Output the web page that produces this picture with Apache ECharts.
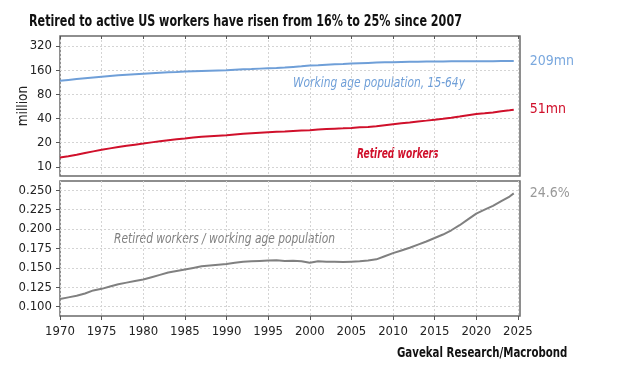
<!DOCTYPE html>
<html><head><meta charset="utf-8">
<script src="https://cdn.jsdelivr.net/npm/echarts@6/dist/echarts.min.js"></script>
<style>html,body{margin:0;padding:0;background:#fff}#c{width:623px;height:378px}</style>
</head><body><div id="c"></div>
<script>
const years = [1970,1971,1972,1973,1974,1975,1976,1977,1978,1979,1980,1981,1982,1983,1984,1985,1986,1987,1988,1989,1990,1991,1992,1993,1994,1995,1996,1997,1998,1999,2000,2001,2002,2003,2004,2005,2006,2007,2008,2009,2010,2011,2012,2013,2014,2015,2016,2017,2018,2019,2020,2021,2022,2023,2024,2024.5];
const workingAge = [118,121,124,127,130,133,136,138.5,141,143,145,147,149,150.5,152,154,155.5,157,158,159,160,162,164,165.5,167.5,169.5,171,173,176,179,183,185,187.5,189.5,191.5,194,196,197.5,199,200.5,201.5,202.5,203.5,204.5,205,205.5,206,206.5,207,207.5,207.5,207,207.5,208.5,209,209];
const retired = [13.1,13.6,14.2,14.9,15.6,16.3,17.0,17.7,18.3,18.9,19.5,20.2,20.9,21.5,22.1,22.6,23.2,23.7,24.1,24.5,24.8,25.3,25.8,26.2,26.6,27.0,27.3,27.5,27.9,28.3,28.6,29.2,29.6,29.9,30.2,30.6,31.1,31.5,32.1,33.1,34.0,34.9,35.8,36.8,37.7,38.7,39.8,41.0,42.4,44.1,45.6,46.6,47.7,49.2,50.6,51.4];
const ratio = [0.110,0.112,0.114,0.117,0.121,0.123,0.126,0.129,0.131,0.133,0.135,0.138,0.141,0.144,0.146,0.148,0.150,0.152,0.153,0.154,0.155,0.1565,0.158,0.1585,0.159,0.1595,0.160,0.159,0.1592,0.1587,0.1565,0.1585,0.158,0.1578,0.1575,0.158,0.1585,0.1595,0.161,0.165,0.169,0.1725,0.176,0.180,0.184,0.1885,0.193,0.1985,0.205,0.2125,0.220,0.225,0.230,0.236,0.242,0.246];
const xTicks = [1970,1975,1980,1985,1990,1995,2000,2005,2010,2015,2020,2025];
const topTicks = [10,20,40,80,160,320];
const bottomTicks = [0.100,0.125,0.150,0.175,0.200,0.225,0.250];
const endLabels = ['209mn','51mn','24.6%'];

const FONT = '"DejaVu Sans Condensed","DejaVu Sans",sans-serif';
const pair = arr => arr.map((v,i)=>[years[i], v]);
const split = {show:true, lineStyle:{color:'#d4d4d4', type:[2,2], width:1}};
const xBase = (gi, showLabels) => ({
  type:'value', gridIndex:gi, min:1970, max:2025.25,
  position: showLabels ? 'bottom' : 'top',
  axisLine:{show:false},
  axisTick:{show:true, inside:!showLabels, customValues:xTicks, length:showLabels?4:3, lineStyle:{color:'#555'}},
  axisLabel:{show:showLabels, customValues:xTicks, color:'#222', fontSize:13, fontFamily:FONT, margin:9, formatter:v=>String(v)},
  splitLine:split
});
const chart = echarts.init(document.getElementById('c'), null, {renderer:'canvas'});
chart.setOption({
  animation:false,
  backgroundColor:'#fff',
  grid:[
    {left:60, top:36, width:460, height:140, show:true, borderColor:'#6a6a6a', borderWidth:1.5, backgroundColor:'transparent'},
    {left:60, top:181, width:460, height:135, show:true, borderColor:'#6a6a6a', borderWidth:1.5, backgroundColor:'transparent'}
  ],
  xAxis:[xBase(0,false), xBase(1,true)],
  yAxis:[
    {type:'log', logBase:10, gridIndex:0, min:7.7, max:427, name:'million', nameLocation:'middle', nameGap:30, nameMoveOverlap:false,
     nameTextStyle:{fontFamily:FONT, fontSize:13.5, color:'#222'},
     axisLine:{show:false},
     axisTick:{show:true, customValues:topTicks, length:4, lineStyle:{color:'#555'}},
     axisLabel:{customValues:topTicks, color:'#222', fontSize:13, fontFamily:FONT, margin:8},
     splitLine:split},
    {type:'value', gridIndex:1, min:0.088, max:0.262,
     axisLine:{show:false},
     axisTick:{show:true, customValues:bottomTicks, length:4, lineStyle:{color:'#555'}},
     axisLabel:{customValues:bottomTicks, color:'#222', fontSize:13, fontFamily:FONT, margin:8, formatter:v=>v.toFixed(3)},
     splitLine:split}
  ],
  series:[
    {type:'line', xAxisIndex:0, yAxisIndex:0, data:pair(workingAge), showSymbol:false, lineStyle:{color:'#6f9fd8', width:2},
     endLabel:{show:true, formatter:endLabels[0], color:'#7aa8de', fontSize:14, fontFamily:FONT, distance:16}},
    {type:'line', xAxisIndex:0, yAxisIndex:0, data:pair(retired), showSymbol:false, lineStyle:{color:'#d0102b', width:2},
     endLabel:{show:true, formatter:endLabels[1], color:'#d0102b', fontSize:14, fontFamily:FONT, distance:16}},
    {type:'line', xAxisIndex:1, yAxisIndex:1, data:pair(ratio), showSymbol:false, lineStyle:{color:'#808080', width:2},
     endLabel:{show:true, formatter:endLabels[2], color:'#999', fontSize:14, fontFamily:FONT, distance:16}}
  ],
  graphic:[
    {type:'text', x:29, y:21.5, scaleX:0.8, style:{text:'Retired to active US workers have risen from 16% to 25% since 2007', fill:'#111', font:'bold 15.5px '+FONT, textVerticalAlign:'middle'}},
    {type:'text', x:293, y:83.5, scaleX:0.88, style:{text:'Working age population, 15-64y', fill:'#6f9fd8', font:'italic 13.5px '+FONT, textVerticalAlign:'middle'}},
    {type:'text', x:357, y:154.5, scaleX:0.75, style:{text:'Retired workers', fill:'#d0102b', font:'italic bold 13.5px '+FONT, textVerticalAlign:'middle'}},
    {type:'text', x:114, y:239.5, scaleX:0.88, style:{text:'Retired workers / working age population', fill:'#808080', font:'italic 13.5px '+FONT, textVerticalAlign:'middle'}},
    {type:'text', x:397, y:353, scaleX:0.84, style:{text:'Gavekal Research/Macrobond', fill:'#111', font:'bold 13.5px '+FONT, textVerticalAlign:'middle'}}
  ]
});
</script></body></html>
